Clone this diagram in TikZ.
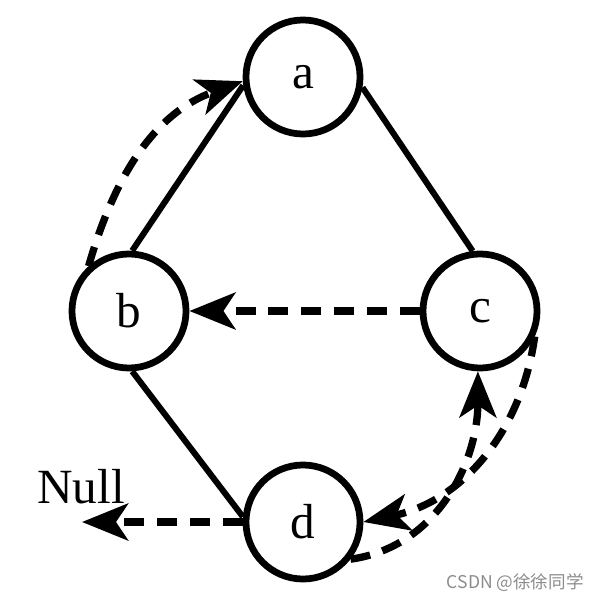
\documentclass[tikz,border=0pt]{standalone}
\usepackage{fontspec}
\setmainfont{Liberation Serif}
\newfontfamily\cjkwm{Noto Sans CJK SC}
\usetikzlibrary{arrows.meta}
\begin{document}
\begin{tikzpicture}[x=0.025cm,y=-0.025cm,
  vertex/.style={circle,draw,line width=4.8pt,minimum size=2.85cm,inner sep=0pt,
    font=\fontsize{35}{40}\selectfont},
  edge/.style={line width=4.3pt},
  ptr/.style={line width=5.2pt,dash pattern=on 0.5cm off 0.32cm,
    -{Stealth[length=1.15cm,width=0.92cm,inset=0.3cm]}},
  lbl/.style={font=\fontsize{35}{40}\selectfont,inner sep=0pt},
  wm/.style={font=\cjkwm\fontsize{12.5}{14}\selectfont,text=black!45,inner sep=0pt}]
\useasboundingbox (0,0) rectangle (599,602);
\node[vertex] (a) at (303,77) {a};
\node[vertex] (b) at (129,311) {b};
\node[vertex] (c) at (480,311) {c};
\node[vertex] (d) at (303,522) {d};
\coordinate (null) at (82,522);
\node[lbl] (nulltxt) at (81,487) {Null};
\draw[edge] (a.188) -- (b.87);
\draw[edge] (a.350) -- (c.97);
\draw[edge] (b.273) -- (d.175);
\draw[ptr] (c.west) -- (b.east);
\draw[ptr] (d.west) -- (null);
\draw[ptr] (b.132) to[out=74,in=200] (a.184);
\draw[ptr] (c.335) to[out=262,in=12] (d.east);
\draw[ptr] (d.322) to[out=8,in=270] (c.268);
\node[wm,anchor=east] (wmark) at (584,583) {CSDN @徐徐同学};
\end{tikzpicture}
\end{document}
